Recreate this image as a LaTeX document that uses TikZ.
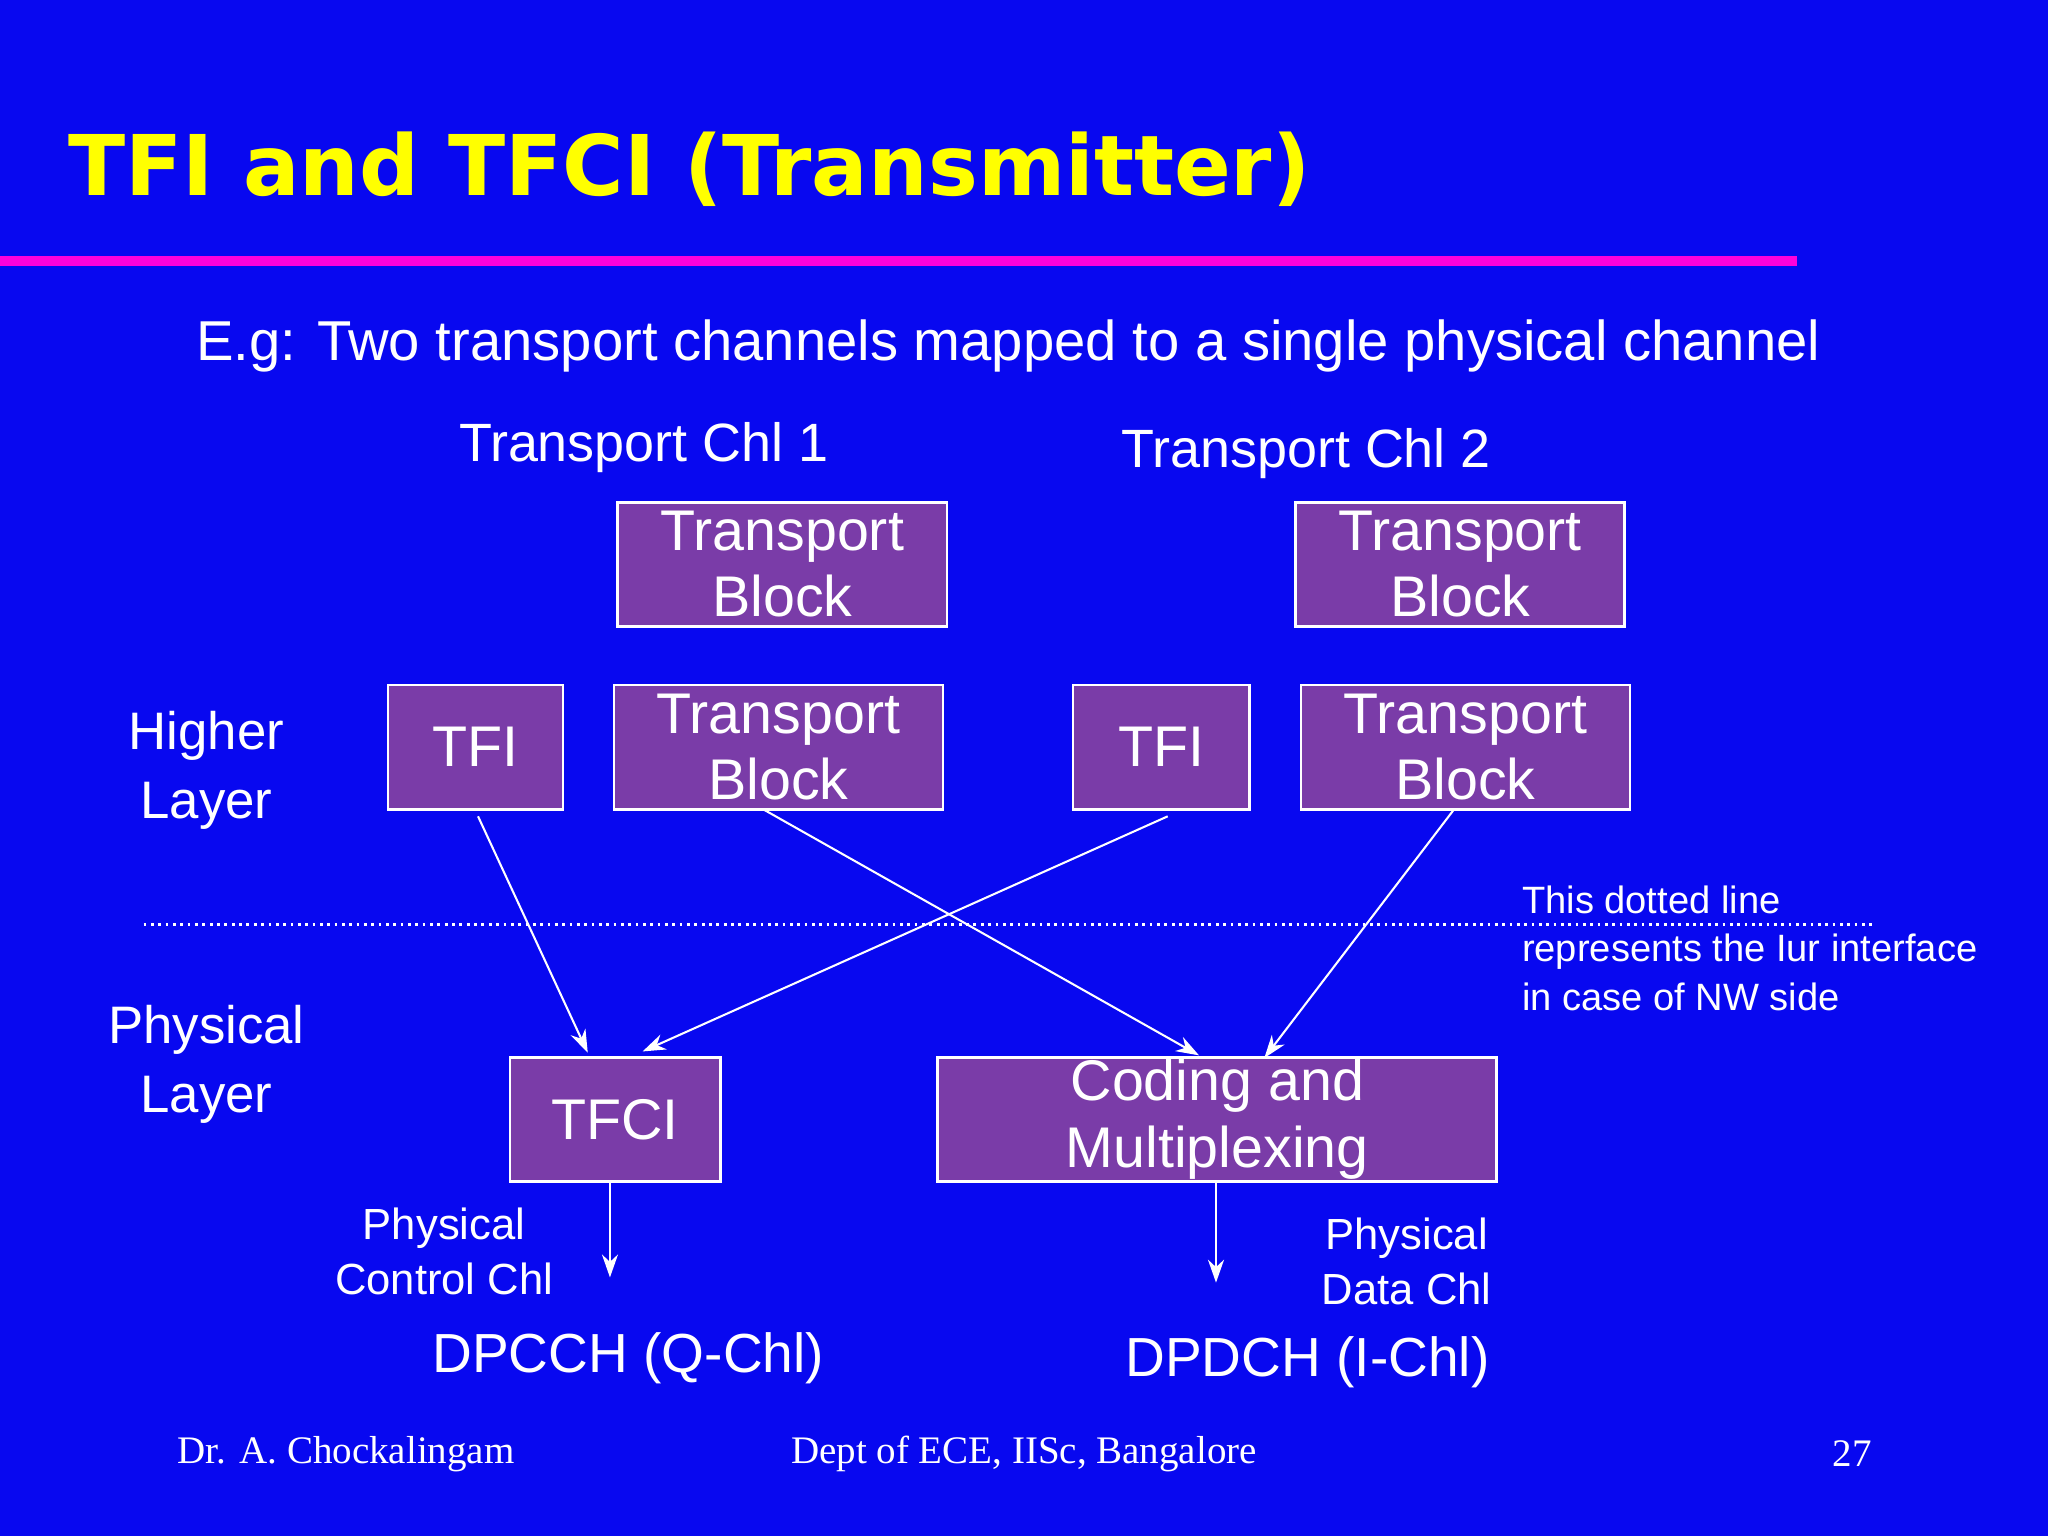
\documentclass[tikz,border=0pt]{standalone}
\usepackage{fontspec}
\setmainfont{Liberation Sans}
\newfontfamily\timesf{Liberation Serif}
\newfontfamily\titlef{DejaVu Sans}
\usetikzlibrary{arrows.meta}
\definecolor{bg}{RGB}{8,8,240}
\definecolor{boxc}{RGB}{122,60,168}
\definecolor{pinkl}{RGB}{255,0,220}
\definecolor{ttl}{RGB}{255,255,0}
\tikzset{
  bx/.style={draw=white,line width=1.2pt,fill=boxc,text=white,font=\fontsize{25}{29}\selectfont,align=center,inner sep=0pt},
  lbl/.style={text=white,align=center,inner sep=0pt},
  arr/.style={white,line width=0.9pt,-{Stealth[length=10pt,width=7pt]}}
}
\begin{document}
\begin{tikzpicture}[x=0.02cm,y=-0.02cm]
\fill[bg] (0,0) rectangle (1568,1176);
\useasboundingbox (0,0) rectangle (1568,1176);
\node[anchor=base west,text=ttl,font=\titlef\fontsize{36.5}{44}\selectfont\bfseries,inner sep=0pt] (title) at (52,150) {TFI and TFCI (Transmitter)};
\fill[pinkl] (0,196) rectangle (1376,204);
\node[lbl,font=\fontsize{24.5}{28}\selectfont] (sub) at (772,265) {E.g: Two transport channels mapped to a single physical channel};
\node[lbl,font=\fontsize{23.5}{27}\selectfont] (c1) at (493,343) {Transport Chl 1};
\node[lbl,font=\fontsize{23.5}{27}\selectfont] (c2) at (1000,347) {Transport Chl 2};
\node[bx,minimum width=252*0.02cm,minimum height=95*0.02cm] (tb1) at (599,432) {Transport\\ Block};
\node[bx,minimum width=252*0.02cm,minimum height=95*0.02cm] (tb2) at (1118,432) {Transport\\ Block};
\node[bx,minimum width=134*0.02cm,minimum height=95*0.02cm] (tfi1) at (364,572) {TFI};
\node[bx,minimum width=252*0.02cm,minimum height=95*0.02cm] (tb1b) at (596,572) {Transport\\ Block};
\node[bx,minimum width=135*0.02cm,minimum height=95*0.02cm] (tfi2) at (889,572) {TFI};
\node[bx,minimum width=252*0.02cm,minimum height=95*0.02cm] (tb2b) at (1122,572) {Transport\\ Block};
\node[bx,minimum width=161*0.02cm,minimum height=95*0.02cm] (tfci) at (471,857) {TFCI};
\node[bx,minimum width=428*0.02cm,minimum height=95*0.02cm] (cm) at (932,857) {Coding and\\ Multiplexing};
\node[lbl,font=\fontsize{23}{30}\selectfont] (hl) at (158,590) {Higher\\ Layer};
\node[lbl,font=\fontsize{23}{30}\selectfont] (pl) at (158,815) {Physical\\ Layer};
\draw[white,line width=1.2pt,dotted] (110,708) -- (1435,708);
\node[lbl,anchor=north west,align=left,font=\fontsize{16.6}{21}\selectfont] (note) at (1165,678) {This dotted line\\represents the Iur interface\\in case of NW side};
\coordinate (a1) at (366,625); \coordinate (a1e) at (450,806);
\coordinate (a2) at (585,620); \coordinate (a2e) at (918,808);
\coordinate (a3) at (894,625); \coordinate (a3e) at (492,805);
\coordinate (a4) at (1113,620); \coordinate (a4e) at (968,810);
\draw[arr] (a1) -- (a1e);
\draw[arr] (a2) -- (a2e);
\draw[arr] (a3) -- (a3e);
\draw[arr] (a4) -- (a4e);
\coordinate (o1) at (467,978); \coordinate (o2) at (931,982);
\draw[arr] (tfci.south -| o1) -- (o1);
\draw[arr] (cm.south -| o2) -- (o2);
\node[lbl,font=\fontsize{19}{24}\selectfont] (pcc) at (340,958) {Physical\\ Control Chl};
\node[lbl,font=\fontsize{19}{24}\selectfont] (pdc) at (1077,966) {Physical\\ Data Chl};
\node[lbl,font=\fontsize{24}{28}\selectfont] (dpcch) at (481,1040) {DPCCH (Q-Chl)};
\node[lbl,font=\fontsize{24}{28}\selectfont] (dpdch) at (1001,1043) {DPDCH (I-Chl)};
\node[lbl,font=\timesf\fontsize{17}{20}\selectfont] (f1) at (265,1113) {Dr. A. Chockalingam};
\node[lbl,font=\timesf\fontsize{17}{20}\selectfont] (f2) at (784,1113) {Dept of ECE, IISc, Bangalore};
\node[lbl,font=\timesf\fontsize{17}{20}\selectfont] (f3) at (1418,1113) {27};
\end{tikzpicture}
\end{document}
